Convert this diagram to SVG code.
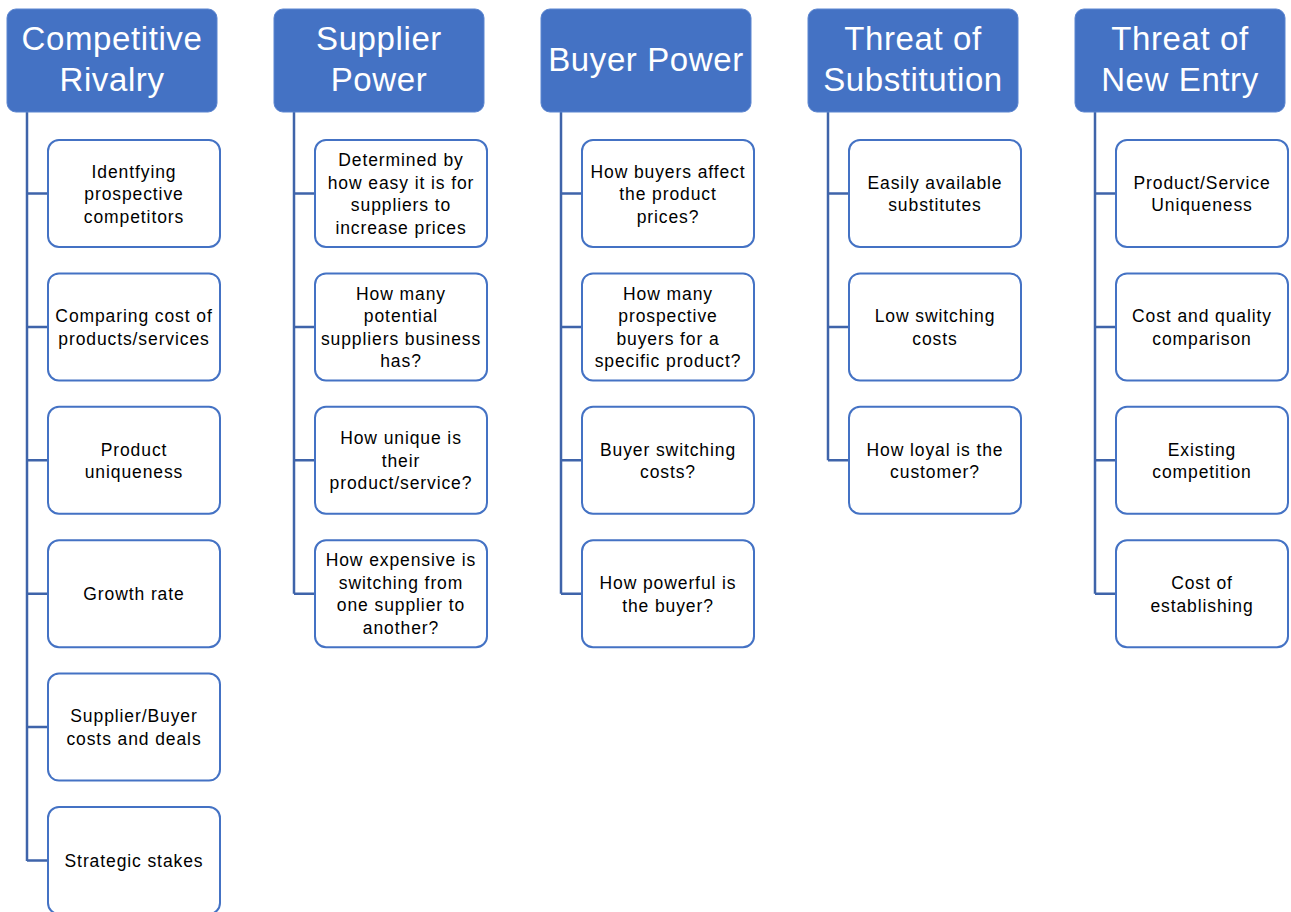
<svg xmlns="http://www.w3.org/2000/svg" width="1291" height="912" viewBox="0 0 1291 912">
<style>
.hd{fill:#4472C4;stroke:#5B85D0;stroke-width:1}
.bx{fill:#FFFFFF;stroke:#4472C4;stroke-width:2}
.cn{fill:none;stroke:#3F64AA;stroke-width:2.5}
.ht{font-family:"Liberation Sans",Arial,sans-serif;font-size:33px;fill:#FFFFFF;text-anchor:middle;letter-spacing:0.6px}
.bt{font-family:"Liberation Sans",Arial,sans-serif;font-size:17.5px;fill:#000000;text-anchor:middle;letter-spacing:0.9px}
</style>
<rect width="1291" height="912" fill="#FFFFFF"/>
<g id="connectors">
<path class="cn" d="M27,112 V861 M27,193.5 H48 M27,326.9 H48 M27,460.3 H48 M27,593.7 H48 M27,727.1 H48 M27,860.5 H48"/>
<path class="cn" d="M294,112 V593.7 M294,193.5 H315 M294,326.9 H315 M294,460.3 H315 M294,593.7 H315"/>
<path class="cn" d="M561,112 V593.7 M561,193.5 H582 M561,326.9 H582 M561,460.3 H582 M561,593.7 H582"/>
<path class="cn" d="M828,112 V460.3 M828,193.5 H849 M828,326.9 H849 M828,460.3 H849"/>
<path class="cn" d="M1095,112 V593.7 M1095,193.5 H1116 M1095,326.9 H1116 M1095,460.3 H1116 M1095,593.7 H1116"/>
</g>
<g id="h1"><rect class="hd" x="7" y="9" width="210" height="103" rx="9"/><text class="ht" x="112" y="50">Competitive</text><text class="ht" x="112" y="91">Rivalry</text></g>
<g id="h2"><rect class="hd" x="274" y="9" width="210" height="103" rx="9"/><text class="ht" x="379" y="50">Supplier</text><text class="ht" x="379" y="91">Power</text></g>
<g id="h3"><rect class="hd" x="541" y="9" width="210" height="103" rx="9"/><text class="ht" x="646" y="71">Buyer Power</text></g>
<g id="h4"><rect class="hd" x="808" y="9" width="210" height="103" rx="9"/><text class="ht" x="913" y="50">Threat of</text><text class="ht" x="913" y="91">Substitution</text></g>
<g id="h5"><rect class="hd" x="1075" y="9" width="210" height="103" rx="9"/><text class="ht" x="1180" y="50">Threat of</text><text class="ht" x="1180" y="91">New Entry</text></g>

<g id="c1n1"><rect class="bx" x="48" y="140" width="172" height="107" rx="11"/><text class="bt" x="134" y="177.5">Identfying</text><text class="bt" x="134" y="200">prospective</text><text class="bt" x="134" y="222.5">competitors</text></g>
<g id="c1n2"><rect class="bx" x="48" y="273.4" width="172" height="107" rx="11"/><text class="bt" x="134" y="322.2">Comparing cost of</text><text class="bt" x="134" y="344.7">products/services</text></g>
<g id="c1n3"><rect class="bx" x="48" y="406.8" width="172" height="107" rx="11"/><text class="bt" x="134" y="455.6">Product</text><text class="bt" x="134" y="478.1">uniqueness</text></g>
<g id="c1n4"><rect class="bx" x="48" y="540.2" width="172" height="107" rx="11"/><text class="bt" x="134" y="600.2">Growth rate</text></g>
<g id="c1n5"><rect class="bx" x="48" y="673.6" width="172" height="107" rx="11"/><text class="bt" x="134" y="722.4">Supplier/Buyer</text><text class="bt" x="134" y="744.9">costs and deals</text></g>
<g id="c1n6"><rect class="bx" x="48" y="807" width="172" height="107" rx="11"/><text class="bt" x="134" y="867">Strategic stakes</text></g>

<g id="c2n1"><rect class="bx" x="315" y="140" width="172" height="107" rx="11"/><text class="bt" x="401" y="166.2">Determined by</text><text class="bt" x="401" y="188.7">how easy it is for</text><text class="bt" x="401" y="211.2">suppliers to</text><text class="bt" x="401" y="233.7">increase prices</text></g>
<g id="c2n2"><rect class="bx" x="315" y="273.4" width="172" height="107" rx="11"/><text class="bt" x="401" y="299.6">How many</text><text class="bt" x="401" y="322.1">potential</text><text class="bt" x="401" y="344.6">suppliers business</text><text class="bt" x="401" y="367.1">has?</text></g>
<g id="c2n3"><rect class="bx" x="315" y="406.8" width="172" height="107" rx="11"/><text class="bt" x="401" y="444.3">How unique is</text><text class="bt" x="401" y="466.8">their</text><text class="bt" x="401" y="489.3">product/service?</text></g>
<g id="c2n4"><rect class="bx" x="315" y="540.2" width="172" height="107" rx="11"/><text class="bt" x="401" y="566.4">How expensive is</text><text class="bt" x="401" y="588.9">switching from</text><text class="bt" x="401" y="611.4">one supplier to</text><text class="bt" x="401" y="633.9">another?</text></g>

<g id="c3n1"><rect class="bx" x="582" y="140" width="172" height="107" rx="11"/><text class="bt" x="668" y="177.5">How buyers affect</text><text class="bt" x="668" y="200">the product</text><text class="bt" x="668" y="222.5">prices?</text></g>
<g id="c3n2"><rect class="bx" x="582" y="273.4" width="172" height="107" rx="11"/><text class="bt" x="668" y="299.6">How many</text><text class="bt" x="668" y="322.1">prospective</text><text class="bt" x="668" y="344.6">buyers for a</text><text class="bt" x="668" y="367.1">specific product?</text></g>
<g id="c3n3"><rect class="bx" x="582" y="406.8" width="172" height="107" rx="11"/><text class="bt" x="668" y="455.6">Buyer switching</text><text class="bt" x="668" y="478.1">costs?</text></g>
<g id="c3n4"><rect class="bx" x="582" y="540.2" width="172" height="107" rx="11"/><text class="bt" x="668" y="589">How powerful is</text><text class="bt" x="668" y="611.5">the buyer?</text></g>

<g id="c4n1"><rect class="bx" x="849" y="140" width="172" height="107" rx="11"/><text class="bt" x="935" y="188.8">Easily available</text><text class="bt" x="935" y="211.3">substitutes</text></g>
<g id="c4n2"><rect class="bx" x="849" y="273.4" width="172" height="107" rx="11"/><text class="bt" x="935" y="322.2">Low switching</text><text class="bt" x="935" y="344.7">costs</text></g>
<g id="c4n3"><rect class="bx" x="849" y="406.8" width="172" height="107" rx="11"/><text class="bt" x="935" y="455.6">How loyal is the</text><text class="bt" x="935" y="478.1">customer?</text></g>

<g id="c5n1"><rect class="bx" x="1116" y="140" width="172" height="107" rx="11"/><text class="bt" x="1202" y="188.8">Product/Service</text><text class="bt" x="1202" y="211.3">Uniqueness</text></g>
<g id="c5n2"><rect class="bx" x="1116" y="273.4" width="172" height="107" rx="11"/><text class="bt" x="1202" y="322.2">Cost and quality</text><text class="bt" x="1202" y="344.7">comparison</text></g>
<g id="c5n3"><rect class="bx" x="1116" y="406.8" width="172" height="107" rx="11"/><text class="bt" x="1202" y="455.6">Existing</text><text class="bt" x="1202" y="478.1">competition</text></g>
<g id="c5n4"><rect class="bx" x="1116" y="540.2" width="172" height="107" rx="11"/><text class="bt" x="1202" y="589">Cost of</text><text class="bt" x="1202" y="611.5">establishing</text></g>
</svg>
